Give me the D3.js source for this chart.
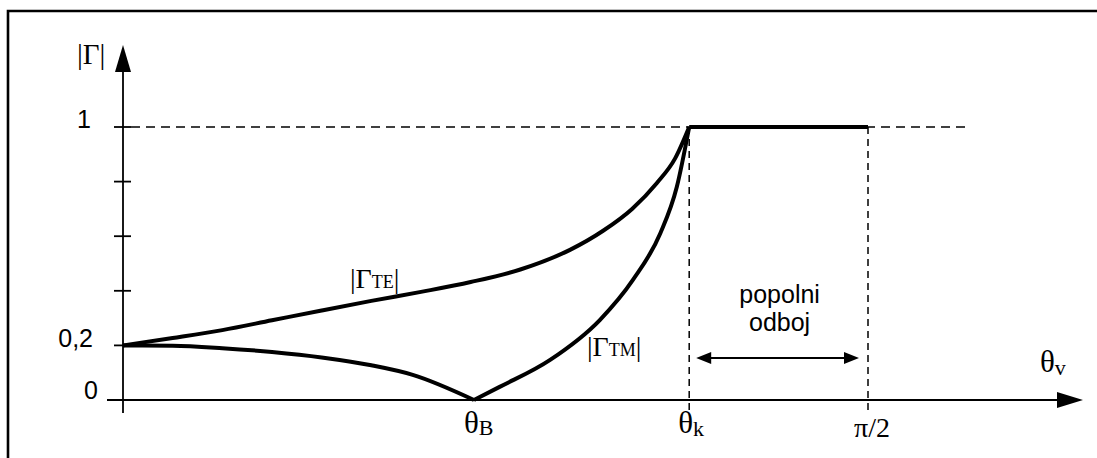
<!DOCTYPE html>
<html>
<head>
<meta charset="utf-8">
<script src="https://cdn.jsdelivr.net/npm/d3@7"></script>
<style>
  body { margin: 0; background: #fff; }
  svg { display: block; }
  .sans { font-family: "Liberation Sans", Arial, sans-serif; }
  .serif { font-family: "Liberation Serif", "Times New Roman", serif; }
</style>
</head>
<body>
<script>
// angles in degrees, values |Gamma|
const thetaB = 42.4;
const thetaK = 68.4;
const halfPi = 90;

const yTicks = [0.2, 0.4, 0.6, 0.8, 1];
const yLabelValues = [1, 0.2, 0];
const yLabelTexts = ["1", "0,2", "0"];

const teCurve = [
  [0, 0.2], [6, 0.227], [12, 0.256], [18, 0.292], [24, 0.328], [30, 0.363],
  [36, 0.396], [42, 0.432], [48, 0.478], [54, 0.55], [58, 0.62],
  [61.5, 0.7], [64.5, 0.795], [66.7, 0.885], [68.4, 1]
];
const tmFall = [
  [0, 0.2], [6, 0.199], [12, 0.19], [18, 0.176], [24, 0.156], [30, 0.127],
  [35, 0.092], [42.4, 0]
];
const tmRise = [
  [42.4, 0], [45.5, 0.048], [51.6, 0.147], [57.6, 0.293], [61.6, 0.44],
  [64.9, 0.61], [66.9, 0.78], [68.4, 1]
];
const totalReflection = [[68.4, 1], [90, 1]];

const width = 1097, height = 458;

const x = d3.scaleLinear().domain([0, 90]).range([123, 868]);
const y = d3.scaleLinear().domain([0, 1]).range([400, 127]);
const px = v => x(x.invert(v)); // pixel helper for axis extents

const svg = d3.select("body").append("svg")
  .attr("width", width)
  .attr("height", height);

// frame (top + left)
svg.append("path")
  .attr("d", "M8," + height + " L8,11 L" + width + ",11")
  .attr("fill", "none").attr("stroke", "#000").attr("stroke-width", 2.6);

// dashed guides
svg.append("line")
  .attr("x1", x(0) + 8).attr("x2", px(965))
  .attr("y1", y(1)).attr("y2", y(1))
  .attr("stroke", "#000").attr("stroke-width", 1.5).attr("stroke-dasharray", "9,6");

[thetaK, halfPi].forEach(t => {
  svg.append("line")
    .attr("x1", x(t)).attr("x2", x(t))
    .attr("y1", y(1)).attr("y2", y(0) + 10)
    .attr("stroke", "#000").attr("stroke-width", 1.5).attr("stroke-dasharray", "7,5");
});

// axes
const axisG = svg.append("g");
axisG.append("line")
  .attr("x1", x(0)).attr("x2", x(0))
  .attr("y1", y(0) + 13).attr("y2", y(1) - 55)
  .attr("stroke", "#000").attr("stroke-width", 1.8);
axisG.append("path")
  .attr("d", `M${x(0)},${y(1) - 82} L${x(0) - 8},${y(1) - 55} L${x(0) + 8},${y(1) - 55} Z`)
  .attr("fill", "#000");

axisG.append("line")
  .attr("x1", x(0) - 16).attr("x2", px(1060))
  .attr("y1", y(0)).attr("y2", y(0))
  .attr("stroke", "#000").attr("stroke-width", 1.8);
axisG.append("path")
  .attr("d", `M${px(1083)},${y(0)} L${px(1057)},${y(0) - 8} L${px(1057)},${y(0) + 8} Z`)
  .attr("fill", "#000");

axisG.selectAll(".tick").data(yTicks).enter().append("line")
  .attr("x1", x(0) - 9).attr("x2", x(0) + 8)
  .attr("y1", d => y(d)).attr("y2", d => y(d))
  .attr("stroke", "#000").attr("stroke-width", 1.8);

// y labels
svg.selectAll(".ylab").data(yLabelValues).enter().append("text")
  .attr("class", "sans")
  .attr("x", (d, i) => i === 2 ? 98 : (i === 0 ? 91 : 93))
  .attr("y", d => y(d) + (d === 0 ? -1 : (d === 1 ? 1 : 2)))
  .attr("text-anchor", "end")
  .attr("font-size", 25)
  .text((d, i) => yLabelTexts[i]);

// curves
const line = d3.line().x(d => x(d[0])).y(d => y(d[1])).curve(d3.curveMonotoneX);
[teCurve, tmFall, tmRise].forEach(c => {
  svg.append("path").attr("d", line(c))
    .attr("fill", "none").attr("stroke", "#000").attr("stroke-width", 4)
    .attr("stroke-linejoin", "round");
});
svg.append("path").attr("d", d3.line().x(d => x(d[0])).y(d => y(d[1]))(totalReflection))
  .attr("fill", "none").attr("stroke", "#000").attr("stroke-width", 4);

// double arrow
const ay = 358;
svg.append("line")
  .attr("x1", x(thetaK) + 15).attr("x2", x(halfPi) - 15)
  .attr("y1", ay).attr("y2", ay)
  .attr("stroke", "#000").attr("stroke-width", 2);
svg.append("path")
  .attr("d", `M${x(thetaK) + 7},${ay} L${x(thetaK) + 22},${ay - 6} L${x(thetaK) + 22},${ay + 6} Z`)
  .attr("fill", "#000");
svg.append("path")
  .attr("d", `M${x(halfPi) - 9},${ay} L${x(halfPi) - 24},${ay - 6} L${x(halfPi) - 24},${ay + 6} Z`)
  .attr("fill", "#000");

const mid = (x(thetaK) + x(halfPi)) / 2;
svg.append("text").attr("class", "sans").attr("x", mid + 1).attr("y", 303)
  .attr("text-anchor", "middle").attr("font-size", 25).text("popolni");
svg.append("text").attr("class", "sans").attr("x", mid + 1).attr("y", 331)
  .attr("text-anchor", "middle").attr("font-size", 25).text("odboj");

// serif labels
function subLabel(lx, ly, main, sub, mainSize, subSize, subDy, wrap) {
  const t = svg.append("text").attr("class", "serif")
    .attr("x", lx).attr("y", ly).attr("font-size", mainSize);
  if (wrap) t.append("tspan").text("|");
  t.append("tspan").text(main);
  if (sub) t.append("tspan").attr("font-size", subSize).attr("dy", subDy).text(sub);
  if (wrap) t.append("tspan").attr("dy", -subDy).text("|");
  return t;
}

subLabel(77, 64, "Γ", null, 29, 0, 0, true);
subLabel(350, 288, "Γ", "TE", 28, 18, 0, true);
subLabel(587, 356, "Γ", "TM", 28, 18, 0, true);

subLabel(x(thetaB) - 10, 433, "θ", "B", 31, 22, 2, false);
subLabel(x(thetaK) - 11, 433, "θ", "k", 31, 22, 3, false);
svg.append("text").attr("class", "serif").attr("x", x(halfPi) + 4).attr("y", 437)
  .attr("text-anchor", "middle").attr("font-size", 28).text("π/2");
subLabel(1040, 372, "θ", "v", 31, 22, 3, false);
</script>
</body>
</html>
